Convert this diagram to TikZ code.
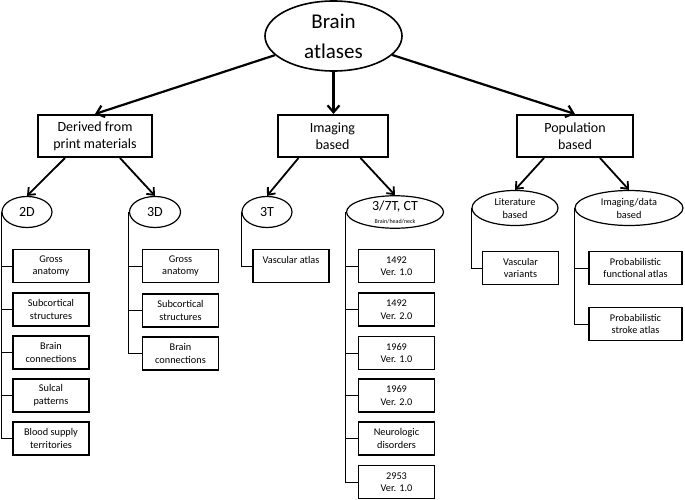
\documentclass[tikz,border=0pt]{standalone}
\usepackage{fontspec}
\setmainfont{Carlito}
\usetikzlibrary{shapes.geometric,arrows.meta}
\tikzset{
  root/.style={ellipse, draw, line width=1.6pt, minimum width=137pt, minimum height=70pt, inner sep=0pt, align=center, font=\fontsize{21}{30}\selectfont},
  cat/.style={draw, line width=2pt, minimum height=42pt, inner sep=0pt, align=center, font=\fontsize{14}{17}\selectfont},
  sub/.style={ellipse, draw, line width=1.2pt, minimum height=31pt, inner sep=0pt, align=center, font=\fontsize{14}{16}\selectfont},
  subs/.style={sub, minimum height=35pt, font=\fontsize{10.3}{13}\selectfont},
  leaf/.style={draw, line width=1.2pt, minimum width=76pt, minimum height=33pt, inner sep=0pt, align=center, font=\fontsize{10.3}{12.5}\selectfont},
  bigarr/.style={-{Straight Barb[length=7pt,width=12pt]}, line width=2.2pt},
  arr/.style={-{Straight Barb[length=6pt,width=10pt]}, line width=1.8pt},
  tree/.style={line width=0.9pt}
}

\begin{document}
\begin{tikzpicture}[x=1pt, y=-1pt]
  \useasboundingbox (0,0) rectangle (685,500);
  % top and categories
  \node[root] (root) at (333.5,36) {Brain\\atlases};
  \node[cat, minimum width=114pt] (deriv) at (95,136) {Derived from\\print materials};
  \node[cat, minimum width=110pt] (img) at (332.5,136) {Imaging\\based};
  \node[cat, minimum width=116pt] (pop) at (575,136) {Population\\based};
  \draw[bigarr] (root) -- (deriv.north);
  \draw[bigarr] (root.south) -- (root.south |- img.north);
  \draw[bigarr] (root) -- (pop.north);

  % second level
  \node[sub, minimum width=50pt] (d2) at (27,212) {2D};
  \node[sub, minimum width=51pt] (d3) at (155,212) {3D};
  \node[sub, minimum width=50pt] (t3) at (267,212) {3T};
  \node[sub, minimum width=97pt] (t7) at (395,212) {3/7T, CT\\[-3pt]{\fontsize{6}{7}\selectfont Brain/head/neck}};
  \node[subs, minimum width=86pt] (lit) at (515,208) {Literature\\based};
  \node[subs, minimum width=108pt] (imd) at (629,208) {Imaging/data\\based};
  \draw[arr] ([xshift=-30pt]deriv.south) -- (d2.north);
  \draw[arr] ([xshift=25pt]deriv.south) -- (d3.north);
  \draw[arr] ([xshift=-34pt]img.south) -- (t3.north);
  \draw[arr] ([xshift=28pt]img.south) -- (t7.north);
  \draw[arr] ([xshift=-31pt]pop.south) -- (lit.north);
  \draw[arr] ([xshift=25pt]pop.south) -- (imd.north);

  % 2D
  \node[leaf] (d2a) at (51,266) {Gross\\anatomy};
  \node[leaf] (d2b) at (51,309.5) {Subcortical\\structures};
  \node[leaf] (d2c) at (51,352.5) {Brain\\connections};
  \node[leaf] (d2d) at (51,395.5) {Sulcal\\patterns};
  \node[leaf] (d2e) at (51,438.5) {Blood supply\\territories};
  \draw[tree] (d2.west) |- (d2a.west);
  \draw[tree] (d2.west) |- (d2b.west);
  \draw[tree] (d2.west) |- (d2c.west);
  \draw[tree] (d2.west) |- (d2d.west);
  \draw[tree] (d2.west) |- (d2e.west);

  % 3D
  \node[leaf] (d3a) at (180.5,266) {Gross\\anatomy};
  \node[leaf] (d3b) at (180.5,310.5) {Subcortical\\structures};
  \node[leaf] (d3c) at (180.5,353.5) {Brain\\connections};
  \draw[tree] (d3.west) |- (d3a.west);
  \draw[tree] (d3.west) |- (d3b.west);
  \draw[tree] (d3.west) |- (d3c.west);

  % 3T
  \node[leaf] (t3a) at (291,266) {Vascular atlas\\\mbox{}};
  \draw[tree] (t3.west) |- (t3a.west);

  % 3/7T, CT
  \node[leaf] (t7a) at (396.5,266) {1492\\Ver. 1.0};
  \node[leaf] (t7b) at (396.5,309.5) {1492\\Ver. 2.0};
  \node[leaf] (t7c) at (396.5,353) {1969\\Ver. 1.0};
  \node[leaf] (t7d) at (396.5,395.5) {1969\\Ver. 2.0};
  \node[leaf] (t7e) at (396.5,438.5) {Neurologic\\disorders};
  \node[leaf] (t7f) at (396.5,482) {2953\\Ver. 1.0};
  \draw[tree] (t7.west) |- (t7a.west);
  \draw[tree] (t7.west) |- (t7b.west);
  \draw[tree] (t7.west) |- (t7c.west);
  \draw[tree] (t7.west) |- (t7d.west);
  \draw[tree] (t7.west) |- (t7e.west);
  \draw[tree] (t7.west) |- (t7f.west);

  % population
  \node[leaf] (lita) at (520.5,268) {Vascular\\variants};
  \draw[tree] (lit.west) |- (lita.west);
  \node[leaf, minimum width=93pt] (imda) at (635.5,268) {Probabilistic\\functional atlas};
  \node[leaf, minimum width=93pt] (imdb) at (635.5,324) {Probabilistic\\stroke atlas};
  \draw[tree] (imd.west) |- (imda.west);
  \draw[tree] (imd.west) |- (imdb.west);
\end{tikzpicture}
\end{document}
